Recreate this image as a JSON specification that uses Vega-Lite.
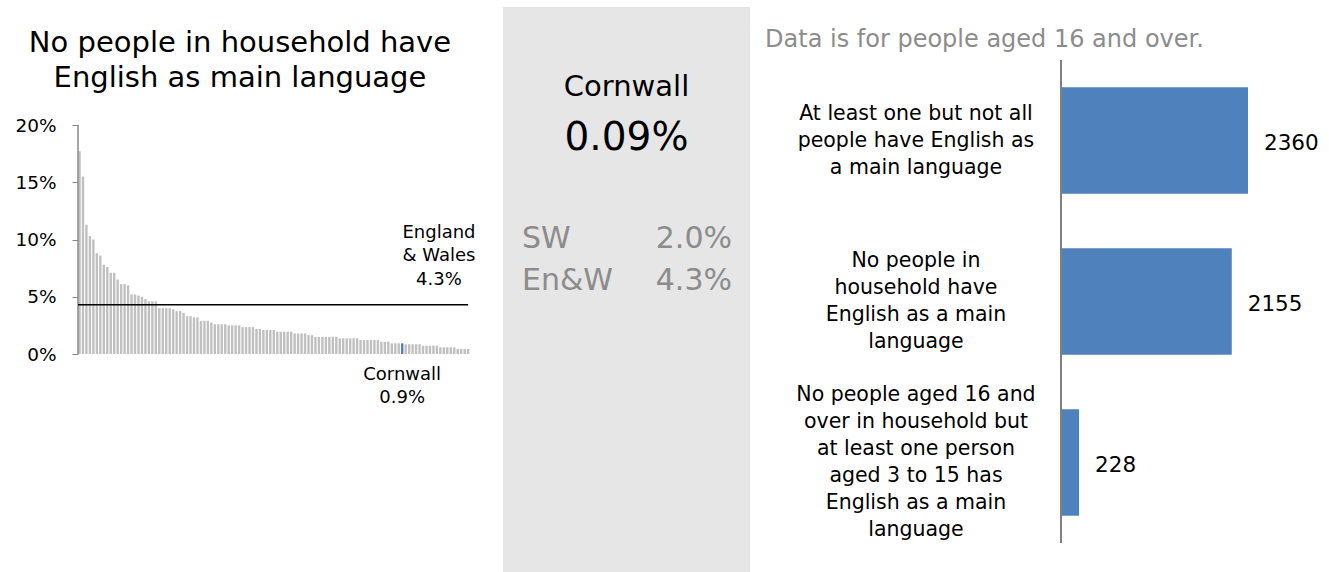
{
  "$schema": "https://vega.github.io/schema/vega-lite/v6.json",
  "padding": {"left": 14, "top": 7, "right": 0, "bottom": 0},
  "spacing": 0,
  "config": {"font": "DejaVu Sans", "view": {"stroke": null}, "axis": {"grid": false}},
  "datasets": {
    "areas": [
      {"rank": 1, "pct": 17.7}, {"rank": 2, "pct": 15.5}, {"rank": 3, "pct": 11.3}, {"rank": 4, "pct": 10.3},
      {"rank": 5, "pct": 10.0}, {"rank": 6, "pct": 8.8}, {"rank": 7, "pct": 8.6}, {"rank": 8, "pct": 7.8},
      {"rank": 9, "pct": 7.6}, {"rank": 10, "pct": 7.1}, {"rank": 11, "pct": 7.1}, {"rank": 12, "pct": 6.5},
      {"rank": 13, "pct": 6.1}, {"rank": 14, "pct": 6.1}, {"rank": 15, "pct": 6.0}, {"rank": 16, "pct": 5.2},
      {"rank": 17, "pct": 5.2}, {"rank": 18, "pct": 5.1}, {"rank": 19, "pct": 5.0}, {"rank": 20, "pct": 4.8},
      {"rank": 21, "pct": 4.6}, {"rank": 22, "pct": 4.6}, {"rank": 23, "pct": 4.6}, {"rank": 24, "pct": 4.0},
      {"rank": 25, "pct": 4.0}, {"rank": 26, "pct": 4.0}, {"rank": 27, "pct": 4.0}, {"rank": 28, "pct": 3.9},
      {"rank": 29, "pct": 3.75}, {"rank": 30, "pct": 3.75}, {"rank": 31, "pct": 3.6}, {"rank": 32, "pct": 3.3},
      {"rank": 33, "pct": 3.3}, {"rank": 34, "pct": 3.2}, {"rank": 35, "pct": 3.2}, {"rank": 36, "pct": 2.9},
      {"rank": 37, "pct": 2.9}, {"rank": 38, "pct": 2.9}, {"rank": 39, "pct": 2.75}, {"rank": 40, "pct": 2.6},
      {"rank": 41, "pct": 2.6}, {"rank": 42, "pct": 2.6}, {"rank": 43, "pct": 2.6}, {"rank": 44, "pct": 2.5},
      {"rank": 45, "pct": 2.5}, {"rank": 46, "pct": 2.5}, {"rank": 47, "pct": 2.5}, {"rank": 48, "pct": 2.35},
      {"rank": 49, "pct": 2.35}, {"rank": 50, "pct": 2.35}, {"rank": 51, "pct": 2.35}, {"rank": 52, "pct": 2.2},
      {"rank": 53, "pct": 2.2}, {"rank": 54, "pct": 2.1}, {"rank": 55, "pct": 2.1}, {"rank": 56, "pct": 2.1},
      {"rank": 57, "pct": 2.1}, {"rank": 58, "pct": 1.95}, {"rank": 59, "pct": 1.95}, {"rank": 60, "pct": 1.95},
      {"rank": 61, "pct": 1.95}, {"rank": 62, "pct": 1.95}, {"rank": 63, "pct": 1.8}, {"rank": 64, "pct": 1.8},
      {"rank": 65, "pct": 1.8}, {"rank": 66, "pct": 1.8}, {"rank": 67, "pct": 1.65}, {"rank": 68, "pct": 1.65},
      {"rank": 69, "pct": 1.5}, {"rank": 70, "pct": 1.5}, {"rank": 71, "pct": 1.5}, {"rank": 72, "pct": 1.5},
      {"rank": 73, "pct": 1.5}, {"rank": 74, "pct": 1.5}, {"rank": 75, "pct": 1.5}, {"rank": 76, "pct": 1.37},
      {"rank": 77, "pct": 1.37}, {"rank": 78, "pct": 1.37}, {"rank": 79, "pct": 1.37}, {"rank": 80, "pct": 1.37},
      {"rank": 81, "pct": 1.37}, {"rank": 82, "pct": 1.22}, {"rank": 83, "pct": 1.22}, {"rank": 84, "pct": 1.22},
      {"rank": 85, "pct": 1.22}, {"rank": 86, "pct": 1.22}, {"rank": 87, "pct": 1.22}, {"rank": 88, "pct": 1.07},
      {"rank": 89, "pct": 1.07}, {"rank": 90, "pct": 1.07}, {"rank": 91, "pct": 0.93}, {"rank": 92, "pct": 0.93},
      {"rank": 93, "pct": 0.93}, {"rank": 94, "pct": 0.93, "area": "Cornwall"}, {"rank": 95, "pct": 0.85},
      {"rank": 96, "pct": 0.85}, {"rank": 97, "pct": 0.85}, {"rank": 98, "pct": 0.85}, {"rank": 99, "pct": 0.85},
      {"rank": 100, "pct": 0.73}, {"rank": 101, "pct": 0.73}, {"rank": 102, "pct": 0.73}, {"rank": 103, "pct": 0.73},
      {"rank": 104, "pct": 0.73}, {"rank": 105, "pct": 0.58}, {"rank": 106, "pct": 0.58}, {"rank": 107, "pct": 0.58},
      {"rank": 108, "pct": 0.58}, {"rank": 109, "pct": 0.58}, {"rank": 110, "pct": 0.44}, {"rank": 111, "pct": 0.44},
      {"rank": 112, "pct": 0.44}, {"rank": 113, "pct": 0.44}
    ],
    "summary": [{"area": "Cornwall", "pct": "0.09%"}],
    "comparisons": [{"area": "SW", "pct": "2.0%"}, {"area": "En&W", "pct": "4.3%"}],
    "benchmark": [{"area": "England & Wales", "pct": 4.3}],
    "households": [
      {"rank": 1, "category": "At least one but not all\npeople have English as\na main language", "count": 2360},
      {"rank": 2, "category": "No people in\nhousehold have\nEnglish as a main\nlanguage", "count": 2155},
      {"rank": 3, "category": "No people aged 16 and\nover in household but\nat least one person\naged 3 to 15 has\nEnglish as a main\nlanguage", "count": 228}
    ],
    "notes": [{"note": "Data is for people aged 16 and over.", "title": ["No people in household have", "English as main language"]}]
  },
  "hconcat": [
    {
      "width": 425,
      "height": 565,
      "layer": [
        {
          "data": {"name": "areas"},
          "mark": {"type": "bar", "width": 2.4, "orient": "vertical"},
          "encoding": {
            "x": {"field": "rank", "type": "quantitative", "scale": {"domain": [0.568, 123.05], "nice": false, "zero": false, "padding": 0}, "axis": null},
            "y": {"field": "pct", "type": "quantitative", "scale": {"domain": [-19.039, 30.306], "nice": false, "zero": false, "padding": 0},
                  "axis": {"values": [0, 5, 10, 15, 20], "labelExpr": "datum.value + '%'", "domain": false, "ticks": true, "tickSize": 6, "tickColor": "#888888", "labelPadding": 16, "labelFontSize": 18.5, "labelColor": "#000000", "title": null, "grid": false}},
            "y2": {"datum": 0},
            "color": {"condition": {"test": "datum.area === 'Cornwall'", "value": "#4f81bd"}, "value": "#c0c0c0"}
          }
        },
        {
          "data": {"name": "benchmark"},
          "mark": {"type": "rule", "color": "#888888", "strokeWidth": 1.5},
          "encoding": {"x": {"datum": 0.568}, "y": {"datum": 0}, "y2": {"datum": 20}}
        },
        {
          "data": {"name": "benchmark"},
          "mark": {"type": "rule", "color": "#000000", "strokeWidth": 1.5},
          "encoding": {"x": {"datum": 0.568}, "x2": {"datum": 113}, "y": {"field": "pct", "type": "quantitative"}}
        },
        {
          "data": {"name": "benchmark"},
          "mark": {"type": "text", "align": "center", "baseline": "middle", "fontSize": 18, "lineHeight": 23.5, "dy": -72, "color": "#000000"},
          "encoding": {"x": {"datum": 104.6}, "y": {"field": "pct", "type": "quantitative"}, "text": {"value": ["England", "& Wales", "4.3%"]}}
        },
        {
          "data": {"name": "areas"},
          "transform": [{"filter": "datum.area === 'Cornwall'"}],
          "mark": {"type": "text", "align": "center", "baseline": "middle", "fontSize": 18, "lineHeight": 23, "dy": 21, "color": "#000000"},
          "encoding": {"x": {"field": "rank", "type": "quantitative"}, "y": {"datum": 0}, "text": {"value": ["Cornwall", "0.9%"]}}
        },
        {
          "data": {"name": "notes"},
          "mark": {"type": "text", "align": "center", "baseline": "middle", "fontSize": 29, "lineHeight": 35, "color": "#000000"},
          "encoding": {"x": {"datum": 47.25}, "y": {"datum": 27.16}, "text": {"field": "title"}}
        }
      ]
    },
    {
      "width": 247,
      "height": 565,
      "view": {"fill": "#e6e6e6", "stroke": null},
      "layer": [
        {
          "data": {"name": "summary"},
          "mark": {"type": "text", "align": "center", "baseline": "middle", "fontSize": 29, "color": "#000000"},
          "encoding": {
            "x": {"datum": 1.235, "scale": {"domain": [0, 2.47], "nice": false, "zero": false}, "axis": null},
            "y": {"datum": 0.80, "scale": {"domain": [0, 5.65], "nice": false, "zero": false, "reverse": true}, "axis": null},
            "text": {"field": "area"}
          }
        },
        {
          "data": {"name": "summary"},
          "mark": {"type": "text", "align": "center", "baseline": "middle", "fontSize": 39, "color": "#000000"},
          "encoding": {"x": {"datum": 1.235}, "y": {"datum": 1.31}, "text": {"field": "pct"}}
        },
        {
          "data": {"name": "comparisons"},
          "transform": [{"filter": "datum.area === 'SW'"}],
          "mark": {"type": "text", "align": "left", "baseline": "middle", "fontSize": 30, "color": "#8c8c8c"},
          "encoding": {"x": {"datum": 0.19}, "y": {"datum": 2.32}, "text": {"field": "area"}}
        },
        {
          "data": {"name": "comparisons"},
          "transform": [{"filter": "datum.area === 'SW'"}],
          "mark": {"type": "text", "align": "right", "baseline": "middle", "fontSize": 30, "color": "#8c8c8c"},
          "encoding": {"x": {"datum": 2.29}, "y": {"datum": 2.32}, "text": {"field": "pct"}}
        },
        {
          "data": {"name": "comparisons"},
          "transform": [{"filter": "datum.area === 'En&W'"}],
          "mark": {"type": "text", "align": "left", "baseline": "middle", "fontSize": 30, "color": "#8c8c8c"},
          "encoding": {"x": {"datum": 0.19}, "y": {"datum": 2.74}, "text": {"field": "area"}}
        },
        {
          "data": {"name": "comparisons"},
          "transform": [{"filter": "datum.area === 'En&W'"}],
          "mark": {"type": "text", "align": "right", "baseline": "middle", "fontSize": 30, "color": "#8c8c8c"},
          "encoding": {"x": {"datum": 2.29}, "y": {"datum": 2.74}, "text": {"field": "pct"}}
        }
      ]
    },
    {
      "width": 579,
      "height": 565,
      "layer": [
        {
          "data": {"name": "households"},
          "mark": {"type": "bar", "orient": "horizontal", "height": 106.5, "color": "#4f81bd"},
          "encoding": {
            "y": {"field": "rank", "type": "quantitative", "scale": {"domain": [0.1708, 3.68], "reverse": true, "nice": false, "zero": false, "padding": 0}, "axis": null},
            "x": {"field": "count", "type": "quantitative", "stack": null, "scale": {"domain": [-3924.8, 3382.1], "nice": false, "zero": false, "padding": 0}, "axis": null},
            "x2": {"datum": 0}
          }
        },
        {
          "data": {"name": "notes"},
          "mark": {"type": "rule", "color": "#808080", "strokeWidth": 2},
          "encoding": {"x": {"datum": 0}, "y": {"datum": 0.5}, "y2": {"datum": 3.5}}
        },
        {
          "data": {"name": "households"},
          "mark": {"type": "text", "align": "left", "baseline": "middle", "dx": 16, "dy": 3, "fontSize": 21.5, "color": "#000000"},
          "encoding": {"x": {"field": "count", "type": "quantitative"}, "y": {"field": "rank", "type": "quantitative"}, "text": {"field": "count", "type": "quantitative", "format": "d"}}
        },
        {
          "data": {"name": "households"},
          "mark": {"type": "text", "align": "center", "baseline": "middle", "lineBreak": "\n", "lineHeight": 27, "fontSize": 20.5, "color": "#000000",
                   "dy": {"expr": "-13.5 * (length(split(datum.category, '\\n')) - 1)"}},
          "encoding": {"x": {"datum": -1830}, "y": {"field": "rank", "type": "quantitative"}, "text": {"field": "category"}}
        },
        {
          "data": {"name": "notes"},
          "mark": {"type": "text", "align": "left", "baseline": "middle", "fontSize": 24, "color": "#8c8c8c"},
          "encoding": {"x": {"datum": -3735}, "y": {"datum": 0.3758}, "text": {"field": "note"}}
        }
      ]
    }
  ]
}
